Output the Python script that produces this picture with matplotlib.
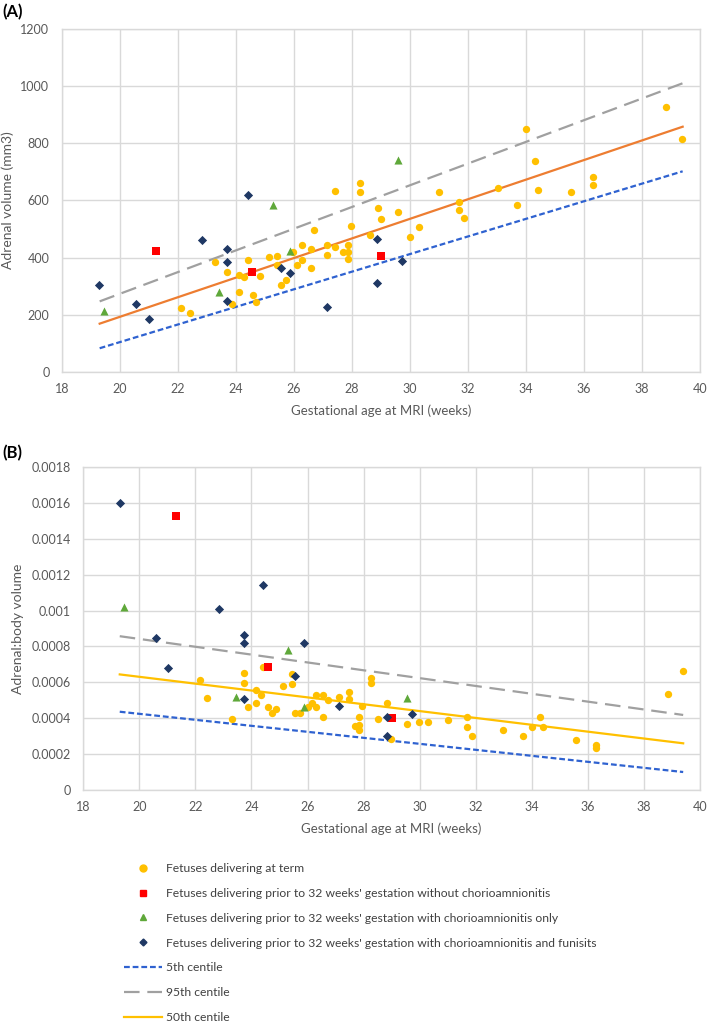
import matplotlib
matplotlib.use("Agg")
import matplotlib.pyplot as plt
from matplotlib.lines import Line2D

plt.rcParams['font.family'] = ['Lato', 'DejaVu Sans']

# ---- panel A: adrenal volume (mm3) ----
term_ga_a = [22.11, 22.43, 23.29, 23.70, 23.87, 24.11, 24.11, 24.28, 24.41, 24.57, 24.69,
             24.84, 25.14, 25.40, 25.40, 25.55, 25.71, 25.98, 26.11, 26.26, 26.26, 26.57,
             26.57, 26.68, 27.15, 27.15, 27.41, 27.41, 27.70, 27.85, 27.85, 27.85, 27.97,
             28.28, 28.28, 28.61, 28.88, 29.01, 29.59, 30.00, 30.30, 31.01, 31.70, 31.70,
             31.85, 33.02, 33.70, 34.00, 34.30, 34.42, 35.54, 36.31, 36.31, 38.83, 39.39]
term_vol_a = [224, 205, 385, 350, 239, 339, 281, 331, 393, 269, 244,
              335, 401, 405, 373, 304, 320, 420, 373, 443, 390, 431,
              362, 497, 443, 408, 634, 438, 420, 443, 420, 396, 512,
              662, 630, 480, 573, 535, 559, 473, 507, 631, 593, 566,
              539, 643, 584, 849, 738, 638, 631, 681, 653, 927, 815]
red_ga_a = [21.25, 24.55, 28.99]
red_vol_a = [422, 349, 407]
green_ga_a = [19.44, 23.40, 25.29, 25.86, 29.59]
green_vol_a = [215, 278, 583, 422, 742]
navy_ga_a = [19.26, 20.55, 20.99, 22.82, 23.70, 23.70, 23.70, 24.41, 25.55, 25.86, 27.15,
             28.86, 28.86, 29.74]
navy_vol_a = [304, 239, 185, 462, 431, 385, 247, 619, 362, 346, 229, 466, 312, 389]

line_ga = [19.3, 39.4]
c5_a = [83, 702]
c50_a = [169, 858]
c95_a = [247, 1010]

# ---- panel B: adrenal:body volume ----
term_ga_b = [22.16, 22.42, 23.29, 23.73, 23.73, 23.89, 24.16, 24.16, 24.33, 24.42, 24.58,
             24.72, 24.86, 25.13, 25.43, 25.46, 25.56, 25.73, 26.03, 26.15, 26.30, 26.30,
             26.56, 26.56, 26.74, 27.12, 27.48, 27.48, 27.70, 27.84, 27.84, 27.84, 27.96,
             28.26, 28.26, 28.53, 28.83, 28.98, 29.54, 29.99, 30.30, 31.00, 31.70, 31.70,
             31.87, 32.99, 33.70, 34.02, 34.28, 34.41, 35.58, 36.29, 36.29, 38.87, 39.41]
term_ratio_b = [0.000611, 0.000512, 0.000397, 0.000653, 0.000598, 0.000464, 0.000557,
                0.000486, 0.000531, 0.000683, 0.000464, 0.000427, 0.000451, 0.000579,
                0.000649, 0.000590, 0.000427, 0.000431, 0.000460, 0.000482, 0.000529,
                0.000460, 0.000529, 0.000408, 0.000501, 0.000520, 0.000545, 0.000505,
                0.000356, 0.000408, 0.000362, 0.000334, 0.000469, 0.000622, 0.000594,
                0.000395, 0.000486, 0.000282, 0.000366, 0.000377, 0.000377, 0.000390,
                0.000408, 0.000353, 0.000299, 0.000334, 0.000299, 0.000353, 0.000408,
                0.000353, 0.000278, 0.000251, 0.000236, 0.000536, 0.000664]
red_ga_b = [21.29, 24.58, 29.00]
red_ratio_b = [0.001525, 0.000683, 0.000403]
green_ga_b = [19.46, 23.45, 25.29, 25.87, 29.56]
green_ratio_b = [0.001017, 0.000520, 0.000779, 0.000464, 0.000512]
navy_ga_b = [19.31, 20.59, 21.03, 22.85, 23.73, 23.73, 23.73, 24.42, 25.55, 25.87, 27.12,
             28.85, 28.85, 29.72]
navy_ratio_b = [0.001598, 0.000848, 0.000677, 0.001011, 0.000861, 0.000817, 0.000507,
                0.001141, 0.000635, 0.000817, 0.000469, 0.000408, 0.000301, 0.000421]

c5_b = [0.000436, 0.000100]
c50_b = [0.000644, 0.000260]
c95_b = [0.000857, 0.000418]

x_ticks = list(range(18, 41, 2))
ticks_a = list(range(0, 1201, 200))
ticks_b = [0, 0.0002, 0.0004, 0.0006, 0.0008, 0.001, 0.0012, 0.0014, 0.0016, 0.0018]
tick_labels_b = ['0', '0.0002', '0.0004', '0.0006', '0.0008', '0.001', '0.0012',
                 '0.0014', '0.0016', '0.0018']

ORANGE = '#FFC000'
RED = '#FF0000'
GREEN = '#5FA83A'
NAVY = '#1F3864'
BLUE = '#2F62D0'
GREY = '#A0A0A0'
TXT = '#595959'
GRID = '#D9D9D9'

blue_dash = (2.6, 1.3)
grey_dash = (7, 3.5)

fig = plt.figure(figsize=(7.09, 10.23), dpi=100)
ax_a = fig.add_axes([0.0874, 0.6364, 0.9, 0.3353])
ax_b = fig.add_axes([0.1175, 0.2278, 0.8698, 0.3157])


def draw_points(ax, tga, ty, rga, ry, gga, gy, nga, ny):
    ax.scatter(tga, ty, s=28, marker='o', color=ORANGE, zorder=3, linewidths=0)
    ax.scatter(rga, ry, s=28, marker='s', color=RED, zorder=4, linewidths=0)
    ax.scatter(gga, gy, s=34, marker='^', color=GREEN, zorder=4, linewidths=0)
    ax.scatter(nga, ny, s=22, marker='D', color=NAVY, zorder=4, linewidths=0)


def style(ax):
    ax.set_xlim(18, 40)
    ax.set_xticks(x_ticks)
    ax.grid(True, color=GRID, linewidth=1)
    ax.set_axisbelow(True)
    for sp in ax.spines.values():
        sp.set_color(GRID)
        sp.set_linewidth(1)
    ax.tick_params(length=0, labelsize=9, colors=TXT)
    ax.tick_params(axis='x', pad=8)
    ax.tick_params(axis='y', pad=9)
    ax.set_xlabel('Gestational age at MRI (weeks)', fontsize=9.5, color=TXT, labelpad=7)


# panel A
draw_points(ax_a, term_ga_a, term_vol_a, red_ga_a, red_vol_a,
            green_ga_a, green_vol_a, navy_ga_a, navy_vol_a)
ax_a.plot(line_ga, c5_a, color=BLUE, lw=1.6, dashes=blue_dash, zorder=2)
ax_a.plot(line_ga, c95_a, color=GREY, lw=1.6, dashes=grey_dash, zorder=2)
ax_a.plot(line_ga, c50_a, color='#ED7D31', lw=1.6, zorder=2)
style(ax_a)
ax_a.set_ylim(0, 1200)
ax_a.set_yticks(ticks_a)
ax_a.set_ylabel('Adrenal volume (mm3)', fontsize=10, color=TXT, labelpad=5)

# panel B
draw_points(ax_b, term_ga_b, term_ratio_b, red_ga_b, red_ratio_b,
            green_ga_b, green_ratio_b, navy_ga_b, navy_ratio_b)
ax_b.plot(line_ga, c5_b, color=BLUE, lw=1.6, dashes=blue_dash, zorder=2)
ax_b.plot(line_ga, c95_b, color=GREY, lw=1.6, dashes=grey_dash, zorder=2)
ax_b.plot(line_ga, c50_b, color=ORANGE, lw=1.6, zorder=2)
style(ax_b)
ax_b.set_ylim(0, 0.0018)
ax_b.set_yticks(ticks_b)
ax_b.set_yticklabels(tick_labels_b)
ax_b.set_ylabel('Adrenal:body volume', fontsize=10, color=TXT, labelpad=5)

fig.text(0.004, 0.988, '(A)', fontsize=12, fontweight='bold', va='center', ha='left')
fig.text(0.004, 0.557, '(B)', fontsize=12, fontweight='bold', va='center', ha='left')

handles = [
    Line2D([], [], ls='none', marker='o', color=ORANGE, markersize=5),
    Line2D([], [], ls='none', marker='s', color=RED, markersize=5),
    Line2D([], [], ls='none', marker='^', color=GREEN, markersize=5),
    Line2D([], [], ls='none', marker='D', color=NAVY, markersize=3.5),
    Line2D([], [], color=BLUE, lw=1.6, dashes=blue_dash),
    Line2D([], [], color=GREY, lw=1.6, dashes=grey_dash),
    Line2D([], [], color=ORANGE, lw=1.6),
]
labels = [
    'Fetuses delivering at term',
    "Fetuses delivering prior to 32 weeks' gestation without chorioamnionitis",
    "Fetuses delivering prior to 32 weeks' gestation with chorioamnionitis only",
    "Fetuses delivering prior to 32 weeks' gestation with chorioamnionitis and funisits",
    '5th centile',
    '95th centile',
    '50th centile',
]
leg = fig.legend(handles, labels, loc='upper left', bbox_to_anchor=(0.175, 0.1565),
                 frameon=False, fontsize=8.7, handlelength=3.15, handletextpad=0.33,
                 labelspacing=1.15, borderaxespad=0, borderpad=0)
for t in leg.get_texts():
    t.set_color('#404040')

fig.savefig('out.png', dpi=100)
